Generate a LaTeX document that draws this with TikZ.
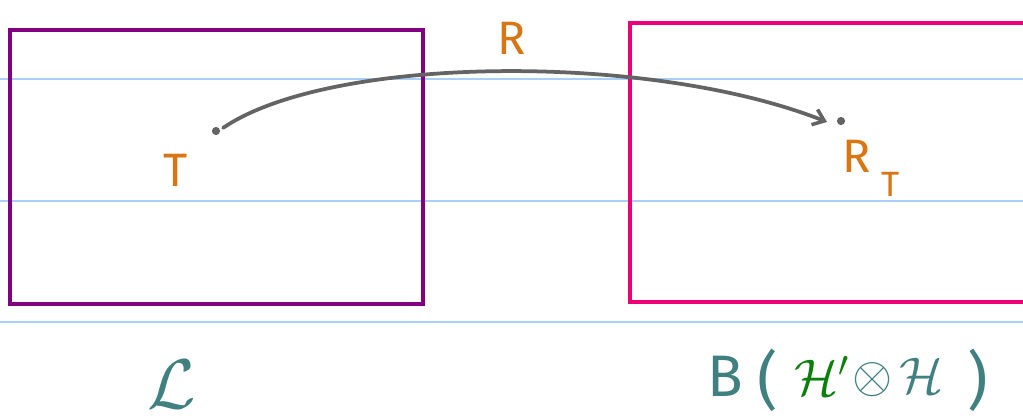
\documentclass[tikz,border=0pt]{standalone}
\usepackage{fix-cm}
\usepackage{fontspec}
\setmainfont{Fira Sans}
\usepackage{amsmath}
\usetikzlibrary{arrows.meta}
\definecolor{rule}{RGB}{168,208,248}
\definecolor{purp}{RGB}{128,0,128}
\definecolor{mag}{RGB}{240,0,120}
\definecolor{orng}{RGB}{216,118,20}
\definecolor{teal2}{RGB}{64,128,128}
\definecolor{grn}{RGB}{10,128,10}
\definecolor{gry}{RGB}{100,100,100}
\tikzset{
  ruleline/.style={rule, line width=1.1pt},
  boxline/.style={line width=3.3pt},
  dotpt/.style={circle, fill=gry, inner sep=0pt, minimum size=7pt},
  olabel/.style={text=orng, font=\fontsize{40}{44}\selectfont},
  tlabel/.style={text=teal2, font=\fontsize{44}{48}\selectfont},
}
\begin{document}
\begin{tikzpicture}[x=0.03cm,y=-0.03cm]
\useasboundingbox (0,0) rectangle (1023,419);
% ruled lines
\coordinate (l1a) at (0,79);  \coordinate (l1b) at (1023,79);
\coordinate (l2a) at (0,201); \coordinate (l2b) at (1023,201);
\coordinate (l3a) at (0,322); \coordinate (l3b) at (1023,322);
\draw[ruleline] (l1a) -- (l1b);
\draw[ruleline] (l2a) -- (l2b);
\draw[ruleline] (l3a) -- (l3b);
% boxes
\draw[boxline, purp] (10,30) rectangle (423,304);
\draw[boxline, mag] (630,23) rectangle (1030,302);
% points
\node[dotpt] (t) at (216,131) {};
\node[dotpt] (rt) at (841,121) {};
\draw[gry, line width=3.2pt, line cap=round, -{Straight Barb[length=9pt,width=14pt,line width=3pt]}]
  (t.north east) ++(4,0) coordinate (cs) .. controls (330,55) and (650,52) .. (827,122) coordinate (ce);
% labels
\node[olabel] (Rlab) at (512,38) {R};
\node[olabel] (Tlab) at (176,170) {T};
\node[olabel] (RTlab) at (857,156) {R};
\node[text=orng, font=\fontsize{30}{34}\selectfont] (RTsub) at (891,184) {T};
\node[tlabel, font=\fontsize{60}{66}\selectfont] (L) at (172,384) {$\mathcal{L}$};
\node[tlabel, font=\fontsize{50}{54}\selectfont] (B1) at (725,376) {B};
\node[tlabel, font=\fontsize{54}{58}\selectfont] (B2) at (768,380) {(};
\node[tlabel, text=grn] (B3) at (822,376) {$\mathcal{H}'$};
\node[tlabel] (B4) at (873,380) {$\otimes$};
\node[tlabel] (B5) at (922,376) {$\mathcal{H}$};
\node[tlabel, font=\fontsize{54}{58}\selectfont] (B6) at (978,380) {)};
\end{tikzpicture}
\end{document}
